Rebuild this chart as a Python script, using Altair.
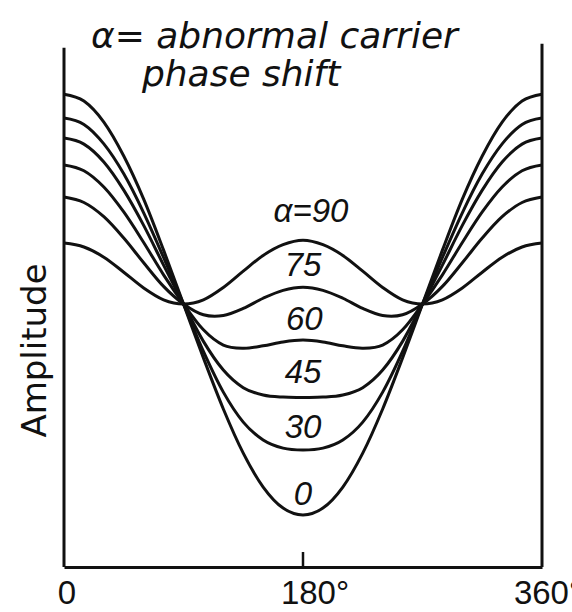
import altair as alt
import pandas as pd

# Phase of the modulating signal, degrees
phase = [0, 15, 30, 45, 60, 75, 90, 105, 120, 135, 150, 165, 180,
         195, 210, 225, 240, 255, 270, 285, 300, 315, 330, 345, 360]

# Envelope amplitude for each abnormal carrier phase shift (arbitrary units)
alpha0 = [1.798, 1.772, 1.692, 1.563, 1.399, 1.205, 1.000, 0.795, 0.601, 0.433, 0.304, 0.224, 0.198,
          0.224, 0.304, 0.433, 0.601, 0.795, 1.000, 1.205, 1.399, 1.563, 1.692, 1.772, 1.798]
alpha30 = [1.707, 1.683, 1.609, 1.495, 1.347, 1.177, 1.000, 0.820, 0.665, 0.551, 0.483, 0.452, 0.445,
           0.452, 0.483, 0.551, 0.665, 0.820, 1.000, 1.177, 1.347, 1.495, 1.609, 1.683, 1.707]
alpha45 = [1.631, 1.608, 1.540, 1.433, 1.299, 1.148, 1.000, 0.858, 0.749, 0.682, 0.654, 0.646, 0.645,
           0.646, 0.654, 0.682, 0.749, 0.858, 1.000, 1.148, 1.299, 1.433, 1.540, 1.608, 1.631]
alpha60 = [1.529, 1.507, 1.445, 1.350, 1.234, 1.111, 1.000, 0.902, 0.844, 0.832, 0.841, 0.856, 0.863,
           0.856, 0.841, 0.832, 0.844, 0.902, 1.000, 1.111, 1.234, 1.350, 1.445, 1.507, 1.529]
alpha75 = [1.407, 1.386, 1.332, 1.251, 1.157, 1.067, 1.000, 0.959, 0.956, 0.983, 1.022, 1.052, 1.064,
           1.052, 1.022, 0.983, 0.956, 0.959, 1.000, 1.067, 1.157, 1.251, 1.332, 1.386, 1.407]
alpha90 = [1.232, 1.217, 1.178, 1.121, 1.061, 1.016, 1.000, 1.016, 1.063, 1.125, 1.185, 1.226, 1.243,
           1.226, 1.185, 1.125, 1.063, 1.016, 1.000, 1.016, 1.061, 1.121, 1.178, 1.217, 1.232]

series = {"0": alpha0, "30": alpha30, "45": alpha45,
          "60": alpha60, "75": alpha75, "90": alpha90}

# In-plot curve labels
curve_labels = ["α=90", "75", "60", "45", "30", "0"]
curve_label_phase = [186, 180, 181, 180, 180, 180]
curve_label_amp = [1.350, 1.143, 0.941, 0.736, 0.527, 0.272]

# Phase-axis labels
tick_values = [0, 180, 360]
tick_text = ["0", "180°", "360°"]
tick_shift = [3, 12, 6]

# Note explaining α
note_lines = ["α= abnormal carrier", "phase shift"]
note_phase = [20.3, 58.7]
note_amp = [1.973, 1.828]

# Frame sides
frame_phase = [0, 360]
frame_top = [1.975, 1.99]

Y_MAX = 1.985
INK = "#111111"
HAND = "Liberation Sans, Arial, DejaVu Sans"

rows = []
for name, vals in series.items():
    for p, a in zip(phase, vals):
        rows.append({"phase": p, "amp": a, "alpha": name})
curves_df = pd.DataFrame(rows)

xs = alt.Scale(domain=[0, 360], nice=False, zero=False)
ys = alt.Scale(domain=[0, Y_MAX], nice=False, zero=True)

curves = alt.Chart(curves_df).mark_line(
    color=INK, strokeWidth=3, interpolate="cardinal"
).encode(
    x=alt.X("phase:Q", scale=xs,
            axis=alt.Axis(title=None, labels=False, ticks=False, grid=False,
                          domain=True, domainColor=INK, domainWidth=3)),
    y=alt.Y("amp:Q", scale=ys,
            axis=alt.Axis(title="Amplitude", labels=False, ticks=False, grid=False,
                          domain=False, titleFont="DejaVu Sans", titleFontSize=34,
                          titleFontWeight="normal", titleColor=INK,
                          titleAngle=270, titleAlign="center", titleBaseline="middle",
                          titleX=-29, titleY=305)),
    detail="alpha:N",
)

frame_df = pd.DataFrame({"phase": frame_phase, "y0": [0, 0], "y1": frame_top})
frame = alt.Chart(frame_df).mark_rule(color=INK, strokeWidth=3).encode(
    x=alt.X("phase:Q", scale=xs),
    y=alt.Y("y0:Q", scale=ys),
    y2="y1:Q",
)

tick_df = pd.DataFrame({"phase": [180], "y0": [0], "y1": [0.057]})
tick = alt.Chart(tick_df).mark_rule(color=INK, strokeWidth=2.5).encode(
    x=alt.X("phase:Q", scale=xs),
    y=alt.Y("y0:Q", scale=ys),
    y2="y1:Q",
)

lab_df = pd.DataFrame({"text": curve_labels, "phase": curve_label_phase,
                       "amp": curve_label_amp})
labels = alt.Chart(lab_df).mark_text(
    font=HAND, fontSize=33, fontStyle="italic", color=INK,
    align="center", baseline="middle"
).encode(
    x=alt.X("phase:Q", scale=xs),
    y=alt.Y("amp:Q", scale=ys),
    text="text:N",
)

xt_df = pd.DataFrame({"text": tick_text, "phase": tick_values, "shift": tick_shift,
                      "amp": [0, 0, 0]})
xlabels = alt.Chart(xt_df).mark_text(
    font=HAND, fontSize=33, color=INK, align="center", baseline="bottom",
    dy=44, dx=alt.ExprRef(expr="datum.shift")
).encode(
    x=alt.X("phase:Q", scale=xs),
    y=alt.Y("amp:Q", scale=ys),
    text="text:N",
)

note_df = pd.DataFrame({"text": note_lines, "phase": note_phase, "amp": note_amp})
note = alt.Chart(note_df).mark_text(
    font="DejaVu Sans", fontSize=36, fontStyle="italic", color=INK,
    align="left", baseline="alphabetic"
).encode(
    x=alt.X("phase:Q", scale=xs),
    y=alt.Y("amp:Q", scale=ys),
    text="text:N",
)

chart = alt.layer(curves, frame, tick, labels, xlabels, note).properties(
    width=478,
    height=522,
    autosize=alt.AutoSizeParams(type="none"),
    padding={"left": 64, "top": 45, "right": 30, "bottom": 45},
    background="white",
).configure_view(stroke=None)

chart.save("out.html", embed_options={"renderer": "svg", "actions": False})
